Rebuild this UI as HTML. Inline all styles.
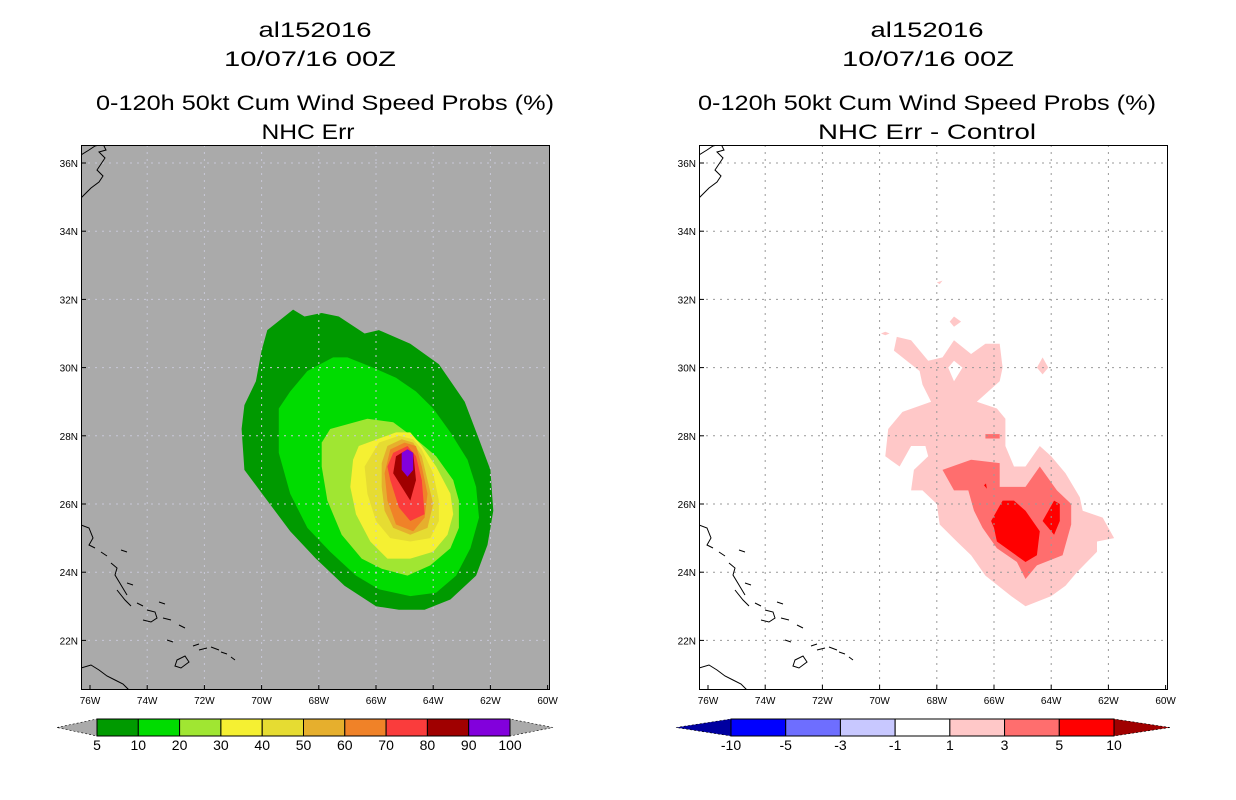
<!DOCTYPE html>
<html><head><meta charset="utf-8"><style>
html,body{margin:0;padding:0;background:#fff;}
svg{display:block;font-family:"Liberation Sans",sans-serif;}
</style></head><body>
<svg id="fig" width="1236" height="800" viewBox="0 0 1236 800">
<g font-size="21" text-anchor="middle" fill="#000">
<text x="315" y="37" textLength="113" lengthAdjust="spacingAndGlyphs">al152016</text>
<text x="310" y="66" textLength="172" lengthAdjust="spacingAndGlyphs">10/07/16 00Z</text>
<text x="325" y="110" textLength="458" lengthAdjust="spacingAndGlyphs">0-120h 50kt Cum Wind Speed Probs (%)</text>
<text x="308" y="139" textLength="93" lengthAdjust="spacingAndGlyphs">NHC Err</text>
</g>
<g font-size="21" text-anchor="middle" fill="#000">
<text x="927" y="37" textLength="113" lengthAdjust="spacingAndGlyphs">al152016</text>
<text x="928" y="66" textLength="172" lengthAdjust="spacingAndGlyphs">10/07/16 00Z</text>
<text x="927" y="110" textLength="458" lengthAdjust="spacingAndGlyphs">0-120h 50kt Cum Wind Speed Probs (%)</text>
<text x="927" y="139" textLength="218" lengthAdjust="spacingAndGlyphs">NHC Err - Control</text>
</g>
</svg>
<script>
const NS="http://www.w3.org/2000/svg";
const svg=document.getElementById('fig');
// axes data
const lonTicks=[-76,-74,-72,-70,-68,-66,-64,-62,-60];
const lonLabels=["76W","74W","72W","70W","68W","66W","64W","62W","60W"];
const latTicks=[22,24,26,28,30,32,34,36];
const latLabels=["22N","24N","26N","28N","30N","32N","34N","36N"];
// left panel contour levels (lon,lat pairs)
const probLevels=[5,10,20,30,40,50,60,70,80,90,100];
const probColors=["#009a00","#00dc00","#a0e632","#f5f032","#e6dc32","#e6af2d","#f08228","#fa3c3c","#a00000","#8200dc"];
const c5=[[-68.9,31.7],[-68.5,31.5],[-67.9,31.6],[-67.3,31.5],[-66.4,31.0],[-65.9,31.1],[-64.8,30.7],[-63.8,30.1],[-62.9,29.0],[-62.4,27.9],[-62.0,27.0],[-61.9,25.8],[-62.1,24.8],[-62.5,23.9],[-63.4,23.2],[-64.3,22.9],[-65.2,22.9],[-66.0,23.0],[-67.1,23.6],[-68.1,24.4],[-69.0,25.2],[-69.8,26.1],[-70.6,27.0],[-70.7,28.2],[-70.6,28.9],[-70.2,29.6],[-70.0,30.5],[-69.8,31.1]];
const c10=[[-67.5,30.3],[-67.0,30.3],[-66.1,30.0],[-65.3,29.7],[-64.6,29.3],[-64.0,28.8],[-63.4,28.1],[-62.8,27.3],[-62.5,26.5],[-62.4,25.6],[-62.7,24.7],[-63.2,23.9],[-63.9,23.4],[-64.8,23.3],[-65.9,23.5],[-66.7,23.9],[-67.6,24.6],[-68.4,25.3],[-69.0,26.3],[-69.4,27.5],[-69.4,28.8],[-69.0,29.3],[-68.4,29.9]];
const c20=[[-67.6,28.2],[-66.3,28.5],[-65.4,28.4],[-64.6,27.9],[-63.9,27.4],[-63.3,26.7],[-63.1,26.1],[-63.1,25.3],[-63.4,24.7],[-64.1,24.2],[-64.9,23.9],[-65.8,24.1],[-66.5,24.4],[-67.2,25.1],[-67.7,26.1],[-67.9,27.1],[-67.9,27.8]];
const c30=[[-66.6,27.7],[-65.3,28.1],[-64.8,28.1],[-64.4,27.7],[-63.9,27.1],[-63.4,26.3],[-63.3,25.7],[-63.5,25.1],[-64.0,24.6],[-64.8,24.4],[-65.6,24.4],[-66.2,24.9],[-66.7,25.7],[-66.9,26.5],[-66.8,27.3]];
const c40=[[-65.9,27.8],[-65.2,28.0],[-64.7,27.9],[-64.4,27.6],[-64.0,26.9],[-63.8,26.1],[-63.8,25.5],[-64.1,25.0],[-64.8,24.9],[-65.5,25.0],[-66.0,25.5],[-66.3,26.3],[-66.4,27.1]];
const c50=[[-65.6,27.7],[-65.1,27.9],[-64.7,27.8],[-64.4,27.4],[-64.2,26.7],[-64.0,26.0],[-64.2,25.3],[-64.8,25.1],[-65.4,25.3],[-65.7,25.8],[-65.8,26.5],[-65.8,27.2]];
const c60=[[-65.5,27.6],[-65.0,27.8],[-64.6,27.7],[-64.4,27.1],[-64.2,26.3],[-64.3,25.6],[-64.7,25.2],[-65.3,25.4],[-65.6,26.1],[-65.7,26.9]];
const c70=[[-65.4,27.5],[-64.9,27.7],[-64.6,27.4],[-64.4,26.7],[-64.3,25.7],[-64.8,25.5],[-65.2,25.9],[-65.5,26.7],[-65.6,27.1]];
const c80=[[-65.3,27.4],[-64.9,27.6],[-64.7,27.5],[-64.6,26.7],[-64.8,26.1],[-65.4,26.9]];
const c90=[[-65.1,27.5],[-64.9,27.6],[-64.7,27.5],[-64.7,27.0],[-64.9,26.8],[-65.1,27.0]];
const probContours=[c5,c10,c20,c30,c40,c50,c60,c70,c80,c90];
// right panel difference contours
const diffLevels=[-10,-5,-3,-1,1,3,5,10];
const diffColors=["#0000a0","#0000ff","#6e6eff","#c8c8ff","#ffffff","#ffc8c8","#ff6e6e","#ff0000","#a00000"];
const d1=[[-69.4,30.9],[-68.9,30.8],[-68.3,30.2],[-67.8,30.3],[-67.4,30.8],[-66.8,30.4],[-66.3,30.7],[-65.8,30.7],[-65.7,30.0],[-65.8,29.6],[-66.6,29.0],[-65.9,28.8],[-65.6,28.5],[-65.6,27.7],[-65.3,27.1],[-64.9,27.1],[-64.4,27.7],[-64.0,27.4],[-63.5,26.9],[-63.0,26.2],[-62.9,25.8],[-62.2,25.6],[-61.8,25.0],[-62.4,24.9],[-62.4,24.6],[-63.1,24.0],[-63.5,23.6],[-64.0,23.3],[-64.9,23.0],[-65.4,23.3],[-66.3,23.9],[-66.8,24.5],[-67.3,24.9],[-67.9,25.4],[-68.0,26.0],[-68.5,26.4],[-68.9,26.4],[-68.8,27.0],[-68.3,27.4],[-68.4,27.7],[-68.9,27.7],[-69.3,27.1],[-69.8,27.4],[-69.7,28.2],[-69.2,28.7],[-68.2,29.0],[-68.5,29.5],[-68.6,29.9],[-69.5,30.5]];
const d1hole=[[-67.4,30.2],[-67.1,30.0],[-67.4,29.6],[-67.6,30.0]];
const d1small1=[[-68.0,32.5],[-67.8,32.55],[-67.9,32.45]];
const d1small2=[[-67.55,31.35],[-67.4,31.5],[-67.15,31.35],[-67.4,31.2]];
const d1small3=[[-69.95,31.0],[-69.8,31.05],[-69.65,31.0],[-69.8,30.95]];
const d1small4=[[-64.3,30.3],[-64.1,30.0],[-64.3,29.8],[-64.5,30.0]];
const d3=[[-67.8,27.0],[-66.8,27.3],[-65.8,27.2],[-65.8,26.5],[-64.9,26.5],[-64.4,27.1],[-63.8,26.4],[-63.3,26.0],[-63.3,25.4],[-63.6,24.5],[-64.5,24.2],[-64.9,23.8],[-65.2,24.3],[-65.9,24.7],[-66.4,25.3],[-66.7,25.8],[-66.9,26.4],[-67.4,26.4]];
const d3bar=[[-66.3,28.05],[-65.8,28.05],[-65.8,27.92],[-66.3,27.92]];
const d5a=[[-66.1,25.5],[-65.7,26.1],[-65.3,26.1],[-64.9,25.8],[-64.4,25.2],[-64.5,24.5],[-64.9,24.3],[-65.9,24.9],[-66.0,25.3]];
const d5b=[[-64.3,25.5],[-63.9,26.1],[-63.7,26.0],[-63.7,25.5],[-63.9,25.1]];
const d5c=[[-66.35,26.55],[-66.28,26.6],[-66.25,26.45]];
const diffFills=[[d1,5],[d1small1,5],[d1small2,5],[d1small3,5],[d1small4,5],[d3,6],[d3bar,6],[d5a,7],[d5b,7],[d5c,7]];

const P0={x:81,y:145,w:469,h:545};
const P1={x:699,y:145,w:469,h:545};
function xs(P,lon){return P.x+9+(lon+76)*28.6;}
function ys(P,lat){return 163+(36-lat)*34.1;}
function el(tag,attrs,parent){const e=document.createElementNS(NS,tag);for(const k in attrs)e.setAttribute(k,attrs[k]);(parent||svg).appendChild(e);return e;}
function pts(P,arr){return arr.map(p=>xs(P,p[0]).toFixed(1)+','+ys(P,p[1]).toFixed(1)).join(' ');}

function panel(P,bg,gridCol,key){
  const g=el('g',{});
  
  
  const cp=el('clipPath',{id:'clip'+key},g);
  el('rect',{x:P.x,y:P.y,width:P.w,height:P.h},cp);
  const bgr=el('rect',{x:P.x,y:P.y,width:P.w,height:P.h,fill:bg},g);
  
  
  const inner=el('g',{'clip-path':'url(#clip'+key+')'},g);
  return {g,inner};
}
function gridAndAxes(P,g,inner,gridCol,key){
  lonTicks.forEach((lon,i)=>{
    const x=xs(P,lon);
    if(i>0&&i<lonTicks.length-1){const l=el('line',{x1:x,y1:P.y,x2:x,y2:P.y+P.h,stroke:gridCol,'stroke-width':1,'stroke-dasharray':'2,5'},inner);
    
    }
    const t=el('line',{x1:x,y1:P.y+P.h,x2:x,y2:P.y+P.h-5,stroke:'#000'},g);
    
    
    const tx=el('text',{x:x,y:P.y+P.h+14,'font-size':10,'text-anchor':'middle'},g);
    tx.textContent=lonLabels[i];
    
    
  });
  latTicks.forEach((lat,i)=>{
    const y=ys(P,lat);
    const l=el('line',{x1:P.x,y1:y,x2:P.x+P.w,y2:y,stroke:gridCol,'stroke-width':1,'stroke-dasharray':'2,5'},inner);
    
    
    const t=el('line',{x1:P.x,y1:y,x2:P.x+5,y2:y,stroke:'#000'},g);
    
    
    const tx=el('text',{x:P.x-3,y:y+4,'font-size':10,'text-anchor':'end'},g);
    tx.textContent=latLabels[i];
    
    
  });
  const coast="M0,155 L8,150 L14,146 L22,144 L25,150 L18,152 L24,158 L20,164 L16,170 L22,176 L18,182 L10,188 L4,194 L0,198 M0,525 L8,528 L12,538 L8,545 L14,548 M0,668 L10,665 L18,670 L26,676 L34,680 L42,684 L48,690 M30,563 L36,568 L34,575 L40,585 L46,595 M36,590 L44,600 L50,606 M46,583 L52,585 M56,603 L62,606 M66,610 L74,612 L76,618 L70,622 L62,620 M78,602 L84,604 M82,618 L90,620 M98,625 L104,628 M86,640 L92,642 M96,660 L104,656 L108,662 L100,668 L94,666 Z M112,646 L118,644 M118,650 L126,648 M130,647 L138,650 M140,652 L146,654 M150,657 L154,660 M40,550 L46,552 M20,552 L26,556 M334,144 L338,141";
  const cg=el('path',{d:coast,fill:'none',stroke:'#000','stroke-width':1,transform:'translate('+P.x+',0)'},inner);
  
  
  const frame=el('rect',{x:P.x+0.5,y:P.y+0.5,width:P.w-1,height:P.h-1,fill:'none',stroke:'#000'},g);
  
  
}

// LEFT
const L=panel(P0,'#aaaaaa','#c4c4d4','left');
probContours.forEach((c,i)=>{
  const p=el('polygon',{points:pts(P0,c),fill:probColors[i]},L.inner);
  
  
});
gridAndAxes(P0,L.g,L.inner,'#c8c8d8','left');

// RIGHT
const R=panel(P1,'#ffffff','#999','right');
const lightPath='M'+d1.map(p=>xs(P1,p[0]).toFixed(1)+','+ys(P1,p[1]).toFixed(1)).join(' L')+' Z M'+d1hole.map(p=>xs(P1,p[0]).toFixed(1)+','+ys(P1,p[1]).toFixed(1)).join(' L')+' Z';
diffFills.forEach((f,i)=>{
  let p;
  if(i===0){p=el('path',{d:lightPath,fill:diffColors[f[1]],'fill-rule':'evenodd'},R.inner);}
  else{p=el('polygon',{points:pts(P1,f[0]),fill:diffColors[f[1]]},R.inner);}
  
  
});
gridAndAxes(P1,R.g,R.inner,'#999999','right');

// COLORBARS
function colorbar(x0,x1,tipL,tipR,y0,h,cols,labels,key){
  const g=el('g',{});
  
  
  const n=cols.length-2;
  const bw=(x1-x0)/n;
  const lt=el('polygon',{points:`${tipL},${y0+h/2} ${x0},${y0} ${x0},${y0+h}`,fill:cols[0],stroke:'#000','stroke-width':0.6,'stroke-dasharray':'2,2'},g);
  
  
  const rt=el('polygon',{points:`${tipR},${y0+h/2} ${x1},${y0} ${x1},${y0+h}`,fill:cols[cols.length-1],stroke:'#000','stroke-width':0.6,'stroke-dasharray':'2,2'},g);
  
  
  for(let i=0;i<n;i++){
    const r=el('rect',{x:x0+i*bw,y:y0,width:bw,height:h,fill:cols[i+1],stroke:'#000','stroke-width':1},g);
    
    
  }
  labels.forEach((lb,i)=>{
    const t=el('text',{x:x0+i*bw,y:y0+h+14,'font-size':14,'text-anchor':'middle'},g);
    t.textContent=lb;
    
    
  });
}
colorbar(97,510,57,553,719,17,['#aaaaaa'].concat(probColors,['#aaaaaa']),probLevels.map(String),'left');
colorbar(731,1114,676,1170,719,17,diffColors,diffLevels.map(String),'right');
</script>
</body></html>
